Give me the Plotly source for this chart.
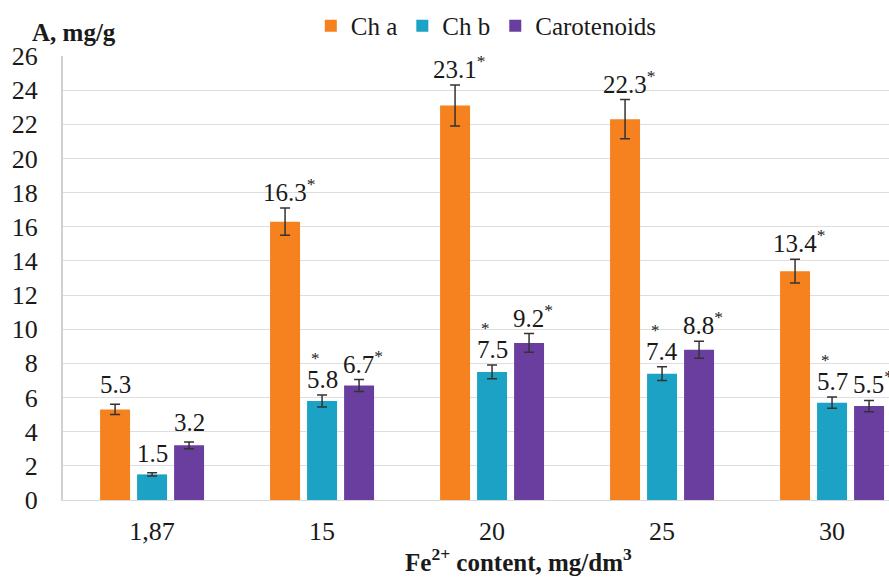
import plotly.graph_objects as go

# Fe2+ concentration groups
categories = ["1,87", "15", "20", "25", "30"]

# Pigment content, mg/g, with error half-widths
ch_a = [5.3, 16.3, 23.1, 22.3, 13.4]
ch_a_err = [0.3, 0.8, 1.2, 1.15, 0.7]
ch_b = [1.5, 5.8, 7.5, 7.4, 5.7]
ch_b_err = [0.1, 0.35, 0.4, 0.4, 0.33]
carotenoids = [3.2, 6.7, 9.2, 8.8, 5.5]
carotenoids_err = [0.2, 0.35, 0.55, 0.5, 0.33]

# significance marks: True where the value differs from control
ch_a_sig = [False, True, True, True, True]
ch_b_sig = [False, True, True, True, True]
carotenoids_sig = [False, True, True, True, True]

y_ticks = list(range(0, 27, 2))

series = [
    ("Ch a", ch_a, ch_a_err, ch_a_sig, "#F5811F", "after"),
    ("Ch b", ch_b, ch_b_err, ch_b_sig, "#1BA2C4", "above"),
    ("Carotenoids", carotenoids, carotenoids_err, carotenoids_sig, "#6A3E9E", "after"),
]

FONT = "Liberation Serif"
TXT = "#1a1a1a"
BARGAP = 0.347
BARGROUPGAP = 0.19
n_series = len(series)
slot = (1 - BARGAP) / n_series

x_pos = list(range(len(categories)))

fig = go.Figure()
annotations = []
for i, (name, vals, errs, sig, color, star_pos) in enumerate(series):
    fig.add_trace(go.Bar(
        name=name,
        x=x_pos,
        y=vals,
        marker=dict(color=color, line=dict(width=0)),
        error_y=dict(type="data", array=errs, visible=True,
                     color="#333333", thickness=1.5, width=5),
    ))
    offset = (i - (n_series - 1) / 2) * slot
    for j, (v, e, s) in enumerate(zip(vals, errs, sig)):
        top = v + e
        lift = 4 if j == 0 else 0
        if s and star_pos == "after":
            annotations.append(dict(
                x=x_pos[j] + offset, y=top, xref="x", yref="y",
                text=f"{v}<sup>*</sup>", showarrow=False,
                xanchor="center", yanchor="bottom", xshift=4, yshift=lift,
                font=dict(family=FONT, size=25, color=TXT)))
        else:
            annotations.append(dict(
                x=x_pos[j] + offset, y=top, xref="x", yref="y",
                text=f"{v}", showarrow=False,
                xanchor="center", yanchor="bottom", yshift=lift,
                font=dict(family=FONT, size=25, color=TXT)))
            if s:
                annotations.append(dict(
                    x=x_pos[j] + offset, y=top, xref="x", yref="y",
                    text="*", showarrow=False,
                    xanchor="center", yanchor="bottom", xshift=-7, yshift=25 + lift,
                    font=dict(family=FONT, size=17, color=TXT)))

# axis titles
annotations.append(dict(
    x=(30 - 63) / 826, y=1.0, xref="paper", yref="paper", xanchor="left", yanchor="bottom",
    text="<b>A, mg/g</b>", showarrow=False, yshift=8,
    font=dict(family=FONT, size=25, color=TXT)))
annotations.append(dict(
    x=0.551, y=0, xref="paper", yref="paper", xanchor="center", yanchor="bottom",
    text="<b>Fe<sup>2+</sup> content, mg/dm<sup>3</sup></b>", showarrow=False,
    yshift=-78, font=dict(family=FONT, size=25, color=TXT)))

fig.update_layout(
    width=889, height=578,
    margin=dict(l=63, r=0, t=56, b=78),
    paper_bgcolor="white", plot_bgcolor="white",
    barmode="group", bargap=BARGAP, bargroupgap=BARGROUPGAP,
    font=dict(family=FONT, size=25, color=TXT),
    showlegend=True,
    legend=dict(orientation="h", x=0.30, xanchor="left", y=1.0676, yanchor="middle",
                font=dict(family=FONT, size=25, color=TXT),
                itemwidth=30, tracegroupgap=0, bgcolor="rgba(0,0,0,0)"),
    annotations=annotations,
    xaxis=dict(
        range=[-0.524, 4.335], tickmode="array", tickvals=x_pos, ticktext=categories,
        showgrid=False, zeroline=False, showline=True, linecolor="#D9D9D9", linewidth=1,
        ticks="", ticklabelstandoff=8,
        tickfont=dict(family=FONT, size=26, color=TXT),
    ),
    yaxis=dict(
        range=[0, 26], tickmode="array", tickvals=y_ticks,
        showgrid=True, gridcolor="#DEDEDE", gridwidth=1, zeroline=False,
        showline=True, linecolor="#D0D0D0", linewidth=2, ticks="",
        ticklabelstandoff=18,
        tickfont=dict(family=FONT, size=26, color=TXT),
    ),
)

fig.write_html("out.html")
